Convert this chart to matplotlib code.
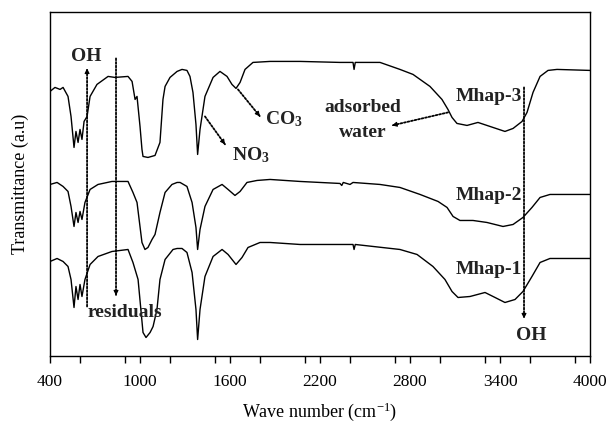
import matplotlib
matplotlib.use("Agg")
import matplotlib.pyplot as plt
from matplotlib.ticker import MultipleLocator

plt.rcParams['font.family'] = ['Liberation Serif', 'DejaVu Serif']
plt.rcParams['mathtext.fontset'] = 'custom'
plt.rcParams['mathtext.rm'] = 'Liberation Serif'
plt.rcParams['mathtext.bf'] = 'Liberation Serif:bold'
plt.rcParams['mathtext.it'] = 'Liberation Serif:italic'

# ---------------- data (wavenumber cm-1, transmittance a.u., offset spectra) ----
wn_m3 = [400, 433, 467, 487, 520, 540, 560, 573, 587, 600, 613, 627, 647, 667, 713, 787,
         833, 920, 947, 967, 980, 1000, 1013, 1020, 1053, 1100, 1133, 1153, 1167, 1200,
         1247, 1280, 1313, 1333, 1353, 1373, 1384, 1400, 1433, 1487, 1533, 1580, 1613,
         1640, 1667, 1700, 1753, 1867, 2067, 2333, 2400, 2420, 2427, 2435, 2600, 2733,
         2820, 2933, 3013, 3053, 3080, 3113, 3180, 3253, 3333, 3433, 3487, 3547, 3580,
         3620, 3667, 3720, 3780, 4000]
t_m3 = [264, 268, 266, 268, 259, 239, 208, 224, 213, 226, 216, 234, 239, 259, 271, 279,
        278, 279, 274, 256, 259, 229, 206, 199, 198, 200, 213, 256, 269, 278,
        284, 286, 285, 279, 263, 231, 201, 226, 259, 278, 284, 279, 271,
        267, 273, 286, 293, 294, 294, 293, 293, 293, 286, 293, 293, 286,
        281, 269, 256, 246, 238, 232, 230, 233, 229, 224, 227, 234, 243,
        263, 279, 285, 286, 285]

wn_m2 = [400, 447, 487, 520, 540, 560, 573, 587, 600, 613, 633, 667, 720, 813, 920, 953,
         980, 1013, 1033, 1053, 1080, 1100, 1133, 1167, 1213, 1247, 1267, 1313, 1347,
         1373, 1384, 1400, 1433, 1487, 1547, 1587, 1633, 1667, 1713, 1780, 1867, 2067,
         2333, 2345, 2355, 2400, 2420, 2600, 2733, 2867, 2987, 3047, 3087, 3133, 3220,
         3313, 3420, 3487, 3553, 3613, 3667, 3733, 4000]
t_m2 = [171, 173, 169, 164, 149, 129, 143, 133, 144, 136, 153, 166, 171, 174, 174, 163,
        153, 113, 106, 108, 116, 121, 143, 163, 171, 173, 173, 169, 153,
        128, 106, 126, 149, 166, 171, 166, 160, 164, 173, 175, 176, 174,
        172, 170, 173, 171, 173, 171, 168, 161, 154, 148, 139, 135, 135,
        133, 129, 131, 138, 148, 158, 161, 161]

wn_m1 = [400, 447, 487, 520, 540, 560, 573, 587, 600, 613, 633, 667, 720, 813, 920, 953,
         987, 1020, 1040, 1067, 1087, 1113, 1133, 1167, 1220, 1247, 1280, 1313, 1347,
         1373, 1384, 1400, 1433, 1487, 1547, 1587, 1640, 1680, 1720, 1800, 1867, 2067,
         2333, 2420, 2427, 2435, 2733, 2847, 2953, 3033, 3080, 3120, 3200, 3300, 3367,
         3433, 3500, 3553, 3613, 3667, 3733, 4000]
t_m1 = [94, 97, 94, 89, 76, 48, 69, 56, 71, 59, 76, 91, 99, 104, 106, 93,
        76, 23, 18, 23, 29, 46, 76, 96, 106, 107, 107, 103, 83,
        46, 16, 46, 79, 99, 106, 101, 91, 98, 108, 113, 113, 111,
        111, 111, 106, 111, 106, 101, 89, 76, 64, 58, 59, 63, 58,
        53, 56, 64, 79, 93, 97, 97]

x_ticks = [400, 1000, 1600, 2200, 2800, 3400, 4000]

# ---------------- figure -------------------------------------------------------
fig = plt.figure(figsize=(6.13, 4.25), dpi=100)
ax = fig.add_axes([0.0816, 0.1635, 0.8809, 0.8085])

for wn, t in [(wn_m3, t_m3), (wn_m2, t_m2), (wn_m1, t_m1)]:
    ax.plot(wn, t, color='black', lw=1.0)

ax.set_xlim(400, 4000)
ax.set_ylim(0, 343.5)
ax.set_xticks(x_ticks)
ax.set_xticklabels([str(v) for v in x_ticks])
ax.xaxis.set_minor_locator(MultipleLocator(300))
ax.tick_params(axis='x', which='major', direction='out', length=5, width=1, labelsize=12.5, pad=8)
ax.tick_params(axis='x', which='minor', direction='out', length=5, width=1)
ax.set_yticks([])
for s in ax.spines.values():
    s.set_linewidth(1.0)

ax.set_xlabel('Wave number (cm$^{\\mathrm{-1}}$)', fontsize=13, labelpad=8)
ax.set_ylabel('Transmittance (a.u)', fontsize=13, labelpad=15)

dot = (0, (1, 1))


def dotted_arrow(x0, y0, x1, y1):
    ax.annotate('', xy=(x1, y1), xytext=(x0, y0),
                arrowprops=dict(arrowstyle='-', lw=1.3, linestyle=dot, color='black',
                                shrinkA=0, shrinkB=0))
    # small solid head at tip
    fx = x1 - (x1 - x0) * 0.02
    fy = y1 - (y1 - y0) * 0.02
    ax.annotate('', xy=(x1, y1), xytext=(fx, fy),
                arrowprops=dict(arrowstyle='-|>', lw=0.8, color='black',
                                mutation_scale=7, shrinkA=0, shrinkB=0))


bold = dict(fontsize=14, fontweight='bold', color='#222222')

# OH left (arrow up)
dotted_arrow(647, 49, 647, 287)
ax.text(640, 299, 'OH', ha='center', va='center', **bold)
# residuals (arrow down)
dotted_arrow(840, 297, 840, 60)
ax.text(900, 43, 'residuals', ha='center', va='center', **bold)
# OH right (arrow down)
dotted_arrow(3560, 268, 3560, 37)
ax.text(3607, 20, 'OH', ha='center', va='center', **bold)
# labels
ax.text(3547, 259, 'Mhap-3', ha='right', va='center', **bold)
ax.text(3547, 160, 'Mhap-2', ha='right', va='center', **bold)
ax.text(3547, 86, 'Mhap-1', ha='right', va='center', **bold)
# adsorbed water
dotted_arrow(3053, 243, 2680, 230)
ax.text(2487, 248, 'adsorbed', ha='center', va='center', **bold)
ax.text(2487, 223, 'water', ha='center', va='center', **bold)
# CO3
dotted_arrow(1653, 266, 1800, 239)
ax.text(1833, 236, 'CO$_\\mathbf{3}$', ha='left', va='center', **bold)
# NO3
dotted_arrow(1433, 239, 1567, 211)
ax.text(1613, 200, 'NO$_\\mathbf{3}$', ha='left', va='center', **bold)

fig.savefig('out.png', dpi=100)
